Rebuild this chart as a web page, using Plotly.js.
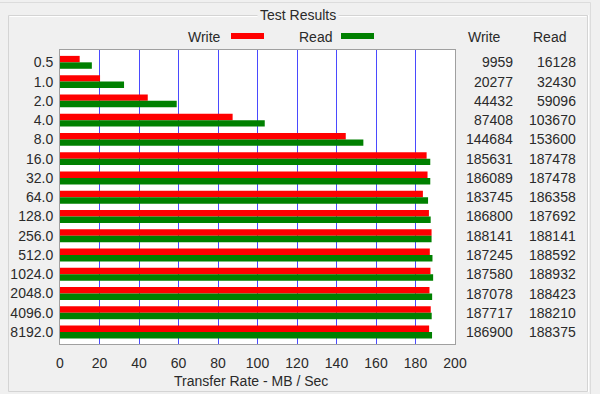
<!DOCTYPE html>
<html>
<head>
<meta charset="utf-8">
<script src="https://cdn.plot.ly/plotly-3.0.1.min.js"></script>
<style>html,body{margin:0;padding:0;background:#f0f0f0;}#chart{width:600px;height:394px;}</style>
</head>
<body>
<div id="chart"></div>
<script>
var blockSizes = ["0.5","1.0","2.0","4.0","8.0","16.0","32.0","64.0","128.0","256.0","512.0","1024.0","2048.0","4096.0","8192.0"];
var writeKB = [9959,20277,44432,87408,144684,185631,186089,183745,186800,188141,187245,187580,187078,187717,186900];
var readKB  = [16128,32430,59096,103670,153600,187478,187478,186358,187692,188141,188592,188932,188423,188210,188375];
var xTicks = [0,20,40,60,80,100,120,140,160,180,200];

var W = 600, H = 394, L = 60, R = 455, T = 50, B = 344;
function px(x){ return (x - L) / (R - L); }
function py(y){ return (B - y) / (B - T); }

var FONT = "Liberation Sans, Arial, sans-serif";
var TXT = "#2a2a2a";

var traces = [
  {type:"bar", orientation:"h", name:"Write", y:blockSizes, x:writeKB.map(function(v){return v/1000;}),
   marker:{color:"#ff0000", line:{width:0}}, hoverinfo:"none"},
  {type:"bar", orientation:"h", name:"Read", y:blockSizes, x:readKB.map(function(v){return v/1000;}),
   marker:{color:"#008000", line:{width:0}}, hoverinfo:"none"}
];

var annotations = [];
var shapes = [];
for (var i = 0; i < blockSizes.length; i++) {
  // category index i on the y axis
  annotations.push({xref:"paper", yref:"y", x:px(515), y:i, text:String(writeKB[i]), showarrow:false, xanchor:"right", yanchor:"middle", font:{family:FONT,size:14,color:TXT}});
  annotations.push({xref:"paper", yref:"y", x:px(578), y:i, text:String(readKB[i]), showarrow:false, xanchor:"right", yanchor:"middle", font:{family:FONT,size:14,color:TXT}});
}
// headers
annotations.push({xref:"paper", yref:"paper", x:px(484), y:py(37), text:"Write", showarrow:false, xanchor:"center", yanchor:"middle", font:{family:FONT,size:14,color:TXT}});
annotations.push({xref:"paper", yref:"paper", x:px(549), y:py(37), text:"Read", showarrow:false, xanchor:"center", yanchor:"middle", font:{family:FONT,size:14,color:TXT}});
// legend
annotations.push({xref:"paper", yref:"paper", x:px(223), y:py(37), text:"Write", showarrow:false, xanchor:"right", yanchor:"middle", font:{family:FONT,size:14,color:TXT}});
annotations.push({xref:"paper", yref:"paper", x:px(334), y:py(37), text:"Read", showarrow:false, xanchor:"right", yanchor:"middle", font:{family:FONT,size:14,color:TXT}});
shapes.push({type:"rect", xref:"paper", yref:"paper", x0:px(231), x1:px(264), y0:py(33), y1:py(39), fillcolor:"#ff0000", line:{width:0}});
shapes.push({type:"rect", xref:"paper", yref:"paper", x0:px(341), x1:px(374), y0:py(33), y1:py(39), fillcolor:"#008000", line:{width:0}});
// group box
shapes.push({type:"rect", xref:"paper", yref:"paper", x0:px(8.5), x1:px(587.5), y0:py(391.5), y1:py(15.5), line:{color:"#d4d4d4", width:1}, layer:"below"});
shapes.push({type:"line", xref:"paper", yref:"paper", x0:px(9.5), x1:px(586.5), y0:py(16.5), y1:py(16.5), line:{color:"#ffffff", width:1}, layer:"below"});
shapes.push({type:"line", xref:"paper", yref:"paper", x0:px(588.5), x1:px(588.5), y0:py(15), y1:py(392), line:{color:"#ffffff", width:1}, layer:"below"});
// window edge
shapes.push({type:"line", xref:"paper", yref:"paper", x0:px(0), x1:px(590.5), y0:py(2.5), y1:py(2.5), line:{color:"#dcdcdc", width:1}, layer:"below"});
shapes.push({type:"line", xref:"paper", yref:"paper", x0:px(590.5), x1:px(590.5), y0:py(2.5), y1:py(394), line:{color:"#dcdcdc", width:1}, layer:"below"});
// title
annotations.push({xref:"paper", yref:"paper", x:px(298), y:py(15), text:"Test Results", showarrow:false, xanchor:"center", yanchor:"middle", bgcolor:"#f0f0f0", borderpad:2, font:{family:FONT,size:14,color:TXT}});
// x axis title
annotations.push({xref:"paper", yref:"paper", x:px(250.5), y:py(381), text:"Transfer Rate - MB / Sec", showarrow:false, xanchor:"center", yanchor:"middle", font:{family:FONT,size:14,color:TXT}});

var layout = {
  width:W, height:H,
  margin:{l:L, r:W-R, t:T, b:H-B, pad:0},
  paper_bgcolor:"#f0f0f0", plot_bgcolor:"#ffffff",
  showlegend:false,
  barmode:"group", bargap:0.33, bargroupgap:0,
  font:{family:FONT, size:14, color:TXT},
  xaxis:{range:[0,200], tickvals:xTicks, ticktext:xTicks.map(String), showgrid:true, gridcolor:"#4a4aff", gridwidth:1,
         zeroline:false, showline:true, mirror:true, linecolor:"#a0a0a0", linewidth:1, ticks:"", ticklabelstandoff:6,
         tickfont:{family:FONT,size:14,color:TXT}, fixedrange:true},
  yaxis:{type:"category", categoryorder:"array", categoryarray:blockSizes, range:[14.62,-0.64], showgrid:false, zeroline:false,
         showline:true, mirror:true, linecolor:"#a0a0a0", linewidth:1, ticks:"", ticklabelstandoff:3,
         tickfont:{family:FONT,size:14,color:TXT}, fixedrange:true},
  annotations:annotations, shapes:shapes
};
Plotly.newPlot("chart", traces, layout, {staticPlot:true, displayModeBar:false});
</script>
</body>
</html>
